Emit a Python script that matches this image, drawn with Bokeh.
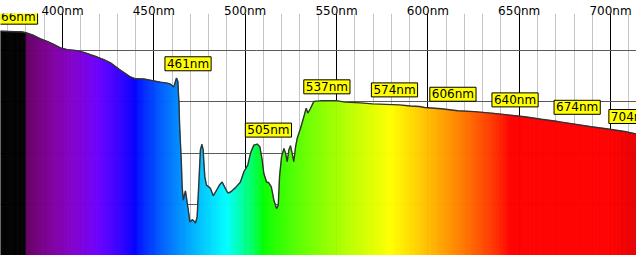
import math
import numpy as np
from bokeh.plotting import figure
from bokeh.models import FixedTicker, PrintfTickFormatter, Range1d, Label, ColumnDataSource
from bokeh.embed import file_html
from bokeh.resources import INLINE

# ---- data ----
wavelength_nm = [366.0, 370.0, 374.0, 378.0, 380.0, 384.3, 388.0, 391.6, 395.2, 398.9,
                 402.6, 408.0, 411.7, 415.3, 419.0, 422.6, 426.3, 429.0, 431.8, 434.5,
                 437.2, 440.0, 444.5, 450.0, 453.6, 457.3, 459.1, 460.9, 462.4, 463.1,
                 463.7, 464.2, 465.0, 465.5, 466.1, 467.3, 468.3, 469.1, 469.7, 471.0,
                 471.9, 472.8, 473.7, 474.6, 475.5, 476.3, 477.0, 477.4, 477.9, 478.8,
                 480.1, 481.0, 482.5, 483.8, 485.9, 487.4, 488.7, 490.5, 492.0, 494.7,
                 497.4, 499.3, 501.4, 502.9, 504.7, 506.6, 508.0, 509.3, 510.2, 511.7,
                 512.9, 514.3, 515.7, 517.2, 518.1, 518.8, 519.9, 521.2, 522.1, 523.0,
                 523.9, 524.8, 525.7, 526.6, 527.6, 528.5, 530.3, 532.1, 533.4, 534.3,
                 535.8, 537.6, 541.2, 546.7, 550.4, 554.9, 563.1, 569.7, 576.8, 584.3,
                 590.5, 595.3, 598.2, 607.3, 616.4, 625.5, 634.7, 643.8, 652.9, 662.1,
                 671.2, 680.3, 689.4, 698.5, 707.7, 714.5]
intensity = [0.876, 0.875, 0.874, 0.873, 0.870, 0.859, 0.846, 0.836, 0.824, 0.811,
             0.804, 0.800, 0.793, 0.784, 0.775, 0.765, 0.752, 0.738, 0.723, 0.710,
             0.697, 0.690, 0.689, 0.682, 0.677, 0.673, 0.669, 0.658, 0.693, 0.680,
             0.601, 0.490, 0.373, 0.268, 0.216, 0.252, 0.204, 0.164, 0.131, 0.140,
             0.135, 0.127, 0.150, 0.278, 0.412, 0.434, 0.412, 0.361, 0.307, 0.275,
             0.268, 0.262, 0.233, 0.248, 0.275, 0.287, 0.268, 0.244, 0.248, 0.265,
             0.287, 0.327, 0.353, 0.399, 0.431, 0.435, 0.425, 0.373, 0.320, 0.287,
             0.284, 0.268, 0.216, 0.183, 0.196, 0.307, 0.385, 0.418, 0.399, 0.366,
             0.412, 0.429, 0.399, 0.366, 0.425, 0.458, 0.497, 0.542, 0.575, 0.556,
             0.575, 0.602, 0.604, 0.604, 0.604, 0.599, 0.596, 0.592, 0.590, 0.588,
             0.584, 0.582, 0.578, 0.573, 0.565, 0.562, 0.556, 0.549, 0.542, 0.532,
             0.523, 0.513, 0.503, 0.494, 0.484, 0.474]

peak_nm = [366, 461, 505, 537, 574, 606, 640, 674, 704]
peak_val = [0.876, 0.694, 0.435, 0.604, 0.592, 0.575, 0.553, 0.524, 0.488]
peak_text = ["366nm", "461nm", "505nm", "537nm", "574nm", "606nm", "640nm", "674nm", "704nm"]

major_ticks = [400, 450, 500, 550, 600, 650, 700]
minor_ticks = [370, 380, 390, 410, 420, 430, 440, 460, 470, 480, 490, 510, 520, 530, 540,
               560, 570, 580, 590, 610, 620, 630, 640, 660, 670, 680, 690, 710]
level_ticks = [0.2, 0.4, 0.6, 0.8]


def wl_color(w):
    if w < 380:
        return "#000000"
    if w < 440:
        r, g, b = -(w - 440) / 60.0, 0.0, 1.0
    elif w < 490:
        r, g, b = 0.0, (w - 440) / 50.0, 1.0
    elif w < 510:
        r, g, b = 0.0, 1.0, -(w - 510) / 20.0
    elif w < 580:
        r, g, b = (w - 510) / 70.0, 1.0, 0.0
    elif w < 645:
        r, g, b = 1.0, -(w - 645) / 65.0, 0.0
    else:
        r, g, b = 1.0, 0.0, 0.0
    if w < 420:
        f = 0.3 + 0.7 * (w - 380) / 40.0
    elif w <= 700:
        f = 1.0
    else:
        f = 0.3 + 0.7 * (780 - w) / 80.0

    def c(x):
        return 0 if x <= 0 else int(round(255 * (x * f) ** 0.8))
    return "#%02x%02x%02x" % (c(r), c(g), c(b))


# split each straight segment of the outline into thin strips to colour the fill
xs, ys, cols = [], [], []
for i in range(len(wavelength_nm) - 1):
    w0, w1 = wavelength_nm[i], wavelength_nm[i + 1]
    v0, v1 = intensity[i], intensity[i + 1]
    n = max(1, int(math.ceil((w1 - w0) / 0.5)))
    for k in range(n):
        a = w0 + (w1 - w0) * k / n
        b = w0 + (w1 - w0) * (k + 1) / n
        va = v0 + (v1 - v0) * k / n
        vb = v0 + (v1 - v0) * (k + 1) / n
        xs.append([a, a, b, b])
        ys.append([0, va, vb, 0])
        cols.append(wl_color((a + b) / 2))

p = figure(width=636, height=255, output_backend="svg", toolbar_location=None,
           x_axis_location="above", x_range=Range1d(366.06, 714.2), y_range=Range1d(0, 0.945),
           min_border=0, min_border_top=0, outline_line_color=None)
p.background_fill_color = "white"
p.border_fill_color = "white"

tick = FixedTicker(ticks=major_ticks, minor_ticks=minor_ticks)
p.xaxis.ticker = tick
p.xgrid.ticker = tick
p.xaxis.formatter = PrintfTickFormatter(format="%dnm")
p.xaxis.axis_line_color = None
p.xaxis.major_tick_line_color = None
p.xaxis.minor_tick_line_color = None
p.xaxis.major_tick_out = 0
p.xaxis.major_tick_in = 0
p.xaxis.minor_tick_out = 0
p.xaxis.major_label_standoff = -4
p.xaxis.major_label_text_font = "DejaVu Sans"
p.xaxis.major_label_text_font_size = "12px"
p.xaxis.major_label_text_color = "black"

p.xgrid.grid_line_color = "black"
p.xgrid.grid_line_width = 1
p.xgrid.minor_grid_line_color = "#c4c4c4"
p.xgrid.minor_grid_line_width = 1

p.yaxis.visible = False
p.ygrid.ticker = FixedTicker(ticks=level_ticks)
p.ygrid.grid_line_color = "#5a5a5a"
p.ygrid.grid_line_width = 1

p.patches(xs, ys, fill_color=cols, line_color=cols, line_width=0.7)
p.line(wavelength_nm, intensity, line_color="#333333", line_width=1.4)

for w, v, t in zip(peak_nm, peak_val, peak_text):
    p.add_layout(Label(x=w, y=v, text=t, x_offset=-9, y_offset=7,
                       text_align="left", text_baseline="bottom",
                       text_font="DejaVu Sans", text_font_size="12px", text_color="black",
                       background_fill_color="#ffff00", border_line_color="black",
                       border_line_width=1, padding=(2, 0)))

open("out.html", "w").write(file_html(p, INLINE))
